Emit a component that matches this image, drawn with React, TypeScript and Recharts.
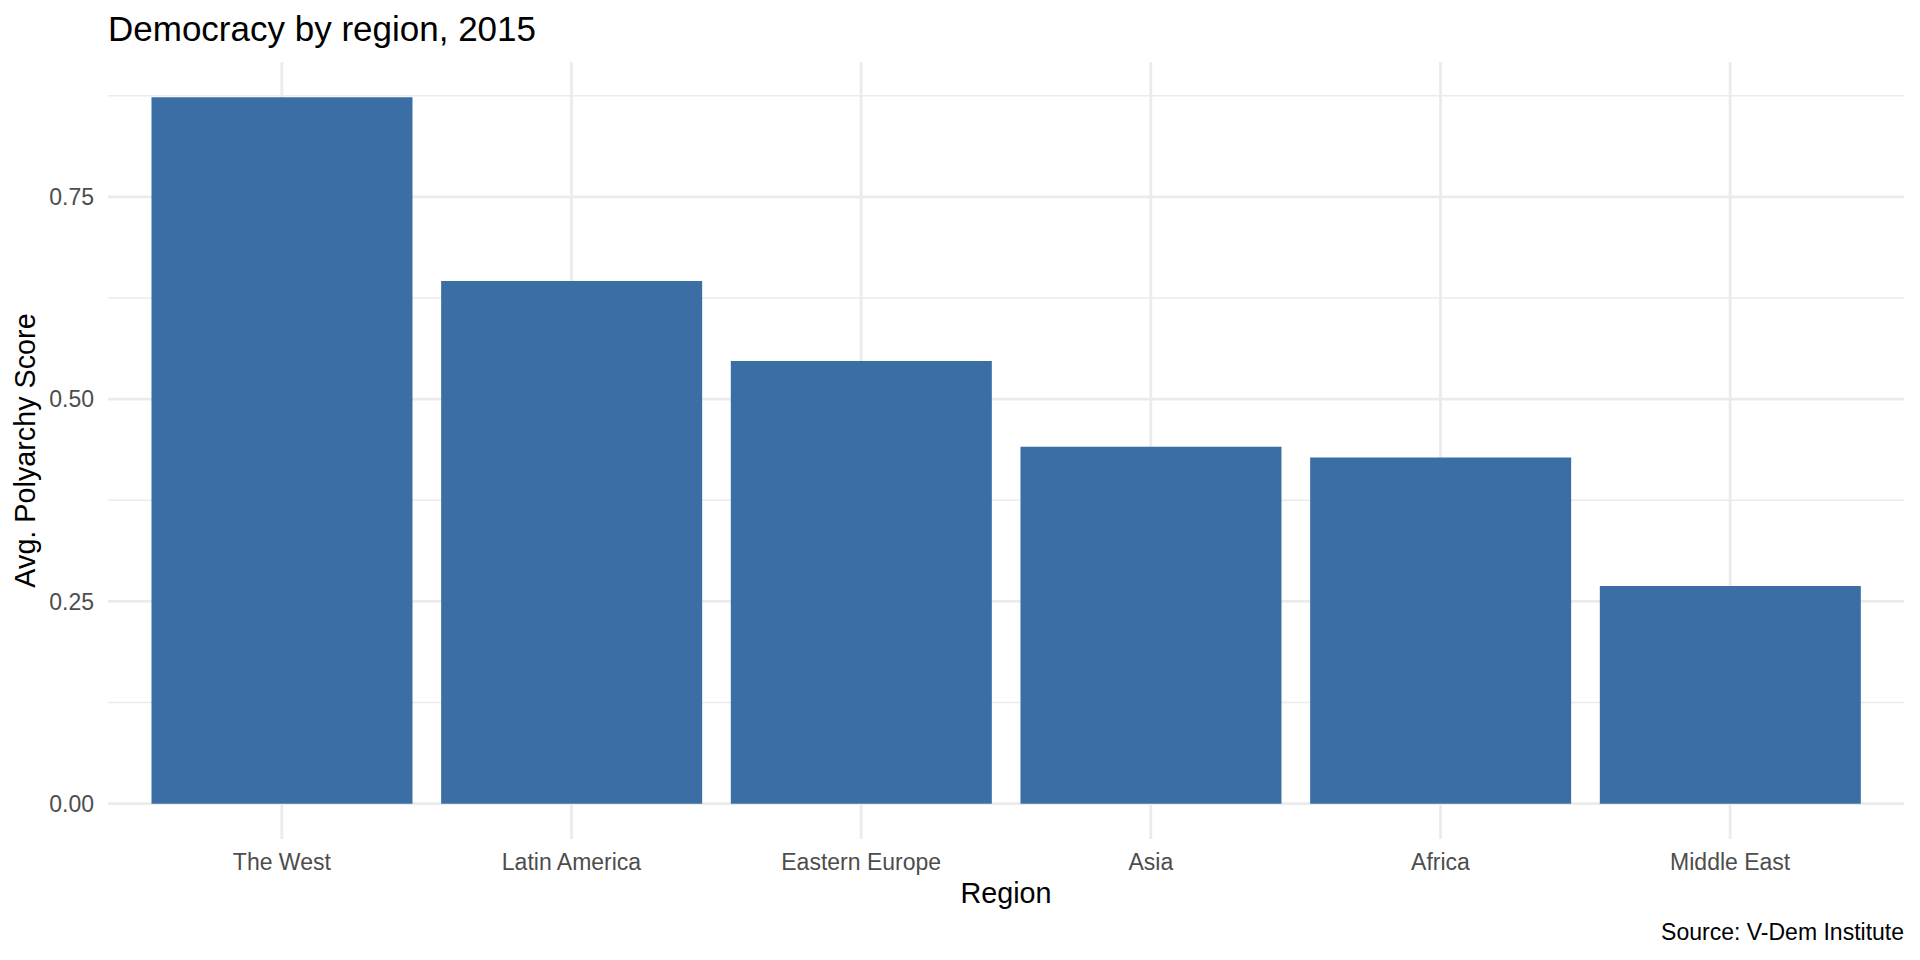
import React from "react";
import { BarChart, Bar, XAxis, YAxis, CartesianGrid } from "recharts";

const regions = ["The West", "Latin America", "Eastern Europe", "Asia", "Africa", "Middle East"];
const polyarchy = [0.873, 0.646, 0.547, 0.441, 0.428, 0.269];
const majorTicks = [0, 0.25, 0.5, 0.75];
const minorTicks = [0.125, 0.375, 0.625, 0.875];

const chartTitle = "Democracy by region, 2015";
const xTitle = "Region";
const yTitle = "Avg. Polyarchy Score";
const caption = "Source: V-Dem Institute";

const data = regions.map((r, i) => ({ region: r, value: polyarchy[i] }));

const FONT = "'Liberation Sans', Arial, Helvetica, sans-serif";
const W = 1920;
const H = 960;
const maxV = Math.max(...polyarchy);
const domain: [number, number] = [-0.05 * maxV, maxV * 1.05];

export default function App() {
  return (
    <div style={{ position: "absolute", left: 0, top: 0, width: W, height: H, background: "#fff" }}>
      <BarChart
        width={W}
        height={H}
        data={data}
        margin={{ top: 62, right: 16, bottom: 81, left: 0 }}
        barCategoryGap="5%"
      >
        <CartesianGrid
          stroke="#EBEBEB"
          strokeWidth={1.4}
          vertical={false}
          horizontalValues={minorTicks}
        />
        <CartesianGrid
          stroke="#EBEBEB"
          strokeWidth={2.8}
          vertical={true}
          horizontalValues={majorTicks}
          verticalValues={regions}
        />
        <XAxis
          dataKey="region"
          type="category"
          height={40}
          padding={{ left: 29, right: 29 }}
          axisLine={false}
          tickLine={false}
          tickSize={0}
          tickMargin={15}
          interval={0}
          tick={{ fill: "#4D4D4D", fontSize: 23, fontFamily: FONT }}
        />
        <YAxis
          type="number"
          width={108}
          domain={domain}
          allowDataOverflow={true}
          ticks={majorTicks}
          tickFormatter={(v: number) => v.toFixed(2)}
          axisLine={false}
          tickLine={false}
          tickSize={0}
          tickMargin={14}
          tick={{ fill: "#4D4D4D", fontSize: 23, fontFamily: FONT }}
        />
        <Bar dataKey="value" fill="#3A6EA5" isAnimationActive={false} />
      </BarChart>
      <svg
        width={W}
        height={H}
        style={{ position: "absolute", left: 0, top: 0, pointerEvents: "none" }}
      >
        <text x={108} y={41} fontSize={35} fontFamily={FONT} fill="#000">
          {chartTitle}
        </text>
        <text
          x={35}
          y={450.5}
          fontSize={28.75}
          fontFamily={FONT}
          fill="#000"
          textAnchor="middle"
          transform="rotate(-90 35 450.5)"
        >
          {yTitle}
        </text>
        <text x={1006} y={903} fontSize={28.75} fontFamily={FONT} fill="#000" textAnchor="middle">
          {xTitle}
        </text>
        <text x={1904} y={940} fontSize={23} fontFamily={FONT} fill="#000" textAnchor="end">
          {caption}
        </text>
      </svg>
    </div>
  );
}
